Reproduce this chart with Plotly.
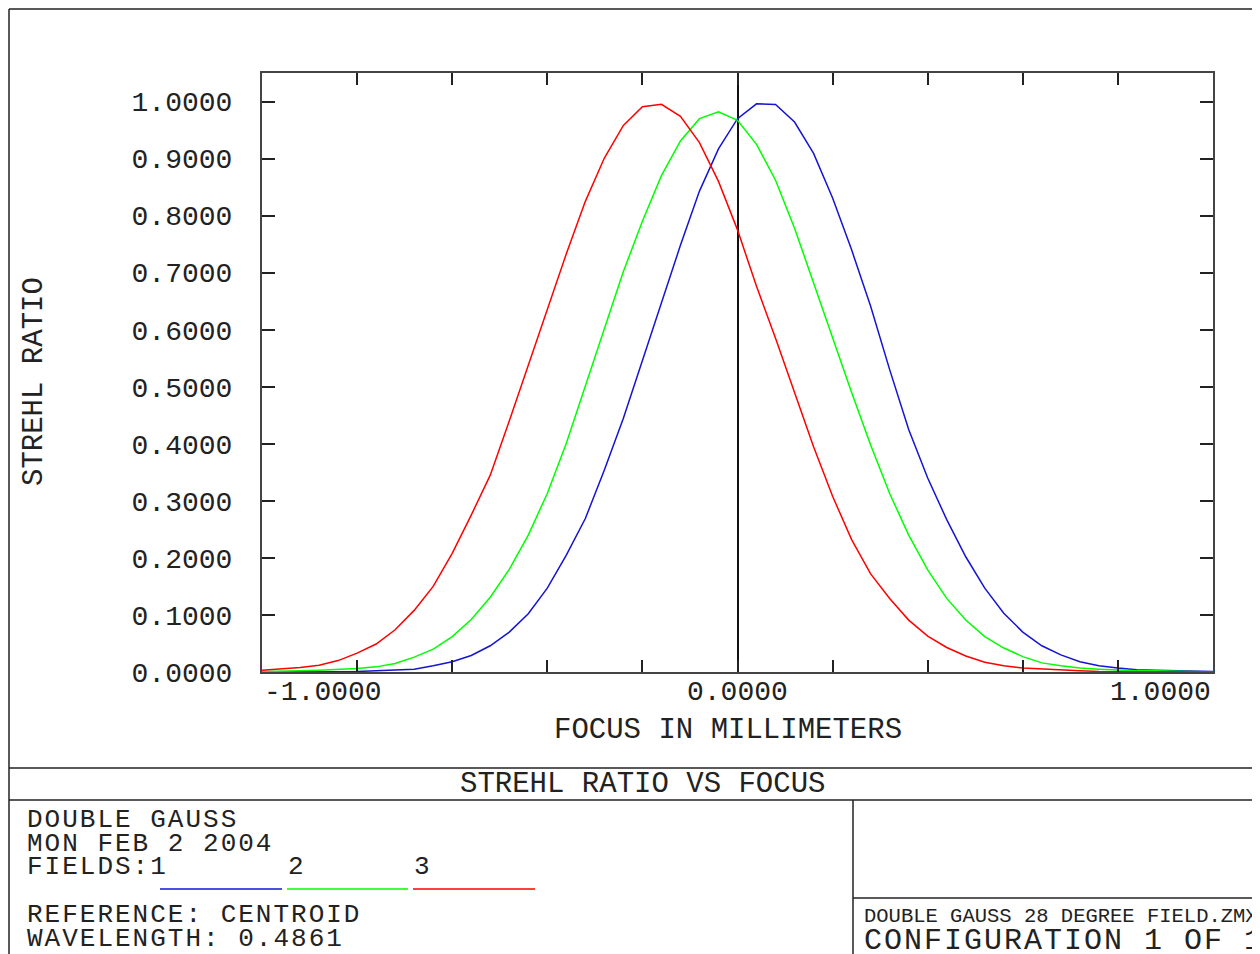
import plotly.graph_objects as go

# focus positions (mm) and Strehl ratio per field
focus = [-1.00, -0.96, -0.92, -0.88, -0.84, -0.80, -0.76, -0.72, -0.68, -0.64,
         -0.60, -0.56, -0.52, -0.48, -0.44, -0.40, -0.36, -0.32, -0.28, -0.24,
         -0.20, -0.16, -0.12, -0.08, -0.04, 0.00, 0.04, 0.08, 0.12, 0.16,
         0.20, 0.24, 0.28, 0.32, 0.36, 0.40, 0.44, 0.48, 0.52, 0.56,
         0.60, 0.64, 0.68, 0.72, 0.76, 0.80, 0.84, 0.88, 0.92, 0.96, 1.00]

field1 = [0.000, 0.000, 0.000, 0.001, 0.001, 0.001, 0.002, 0.003, 0.005, 0.011,
          0.018, 0.029, 0.046, 0.070, 0.102, 0.147, 0.205, 0.269, 0.354, 0.445,
          0.547, 0.647, 0.748, 0.843, 0.917, 0.970, 0.996, 0.995, 0.964, 0.909,
          0.831, 0.740, 0.641, 0.530, 0.425, 0.340, 0.267, 0.202, 0.147, 0.103,
          0.070, 0.046, 0.030, 0.018, 0.011, 0.007, 0.004, 0.003, 0.002, 0.001, 0.001]

field2 = [0.001, 0.001, 0.002, 0.003, 0.004, 0.006, 0.009, 0.015, 0.026, 0.040,
          0.062, 0.092, 0.131, 0.180, 0.240, 0.313, 0.401, 0.500, 0.603, 0.702,
          0.790, 0.870, 0.931, 0.970, 0.982, 0.967, 0.925, 0.862, 0.778, 0.682,
          0.585, 0.490, 0.398, 0.313, 0.240, 0.179, 0.129, 0.091, 0.062, 0.042,
          0.027, 0.016, 0.011, 0.007, 0.005, 0.003, 0.002, 0.002, 0.001, 0.001, 0.000]

field3 = [0.003, 0.005, 0.008, 0.012, 0.020, 0.033, 0.049, 0.074, 0.108, 0.150,
          0.208, 0.275, 0.345, 0.440, 0.537, 0.635, 0.733, 0.825, 0.901, 0.958,
          0.991, 0.995, 0.974, 0.928, 0.860, 0.775, 0.676, 0.585, 0.489, 0.395,
          0.308, 0.232, 0.172, 0.129, 0.091, 0.063, 0.043, 0.028, 0.017, 0.011,
          0.007, 0.005, 0.003, 0.002, 0.001, 0.001, 0.001, 0.000, 0.000, 0.000, 0.000]

y_ticks = [0.0, 0.1, 0.2, 0.3, 0.4, 0.5, 0.6, 0.7, 0.8, 0.9, 1.0]
y_labels = ["0.0000", "0.1000", "0.2000", "0.3000", "0.4000", "0.5000",
            "0.6000", "0.7000", "0.8000", "0.9000", "1.0000"]
x_label_vals = [-1.0, 0.0, 1.0]
x_labels = ["-1.0000", "0.0000", "1.0000"]

series = [("1", field1, "#1414d2"), ("2", field2, "#00ff00"), ("3", field3, "#ff0000")]

W, H = 1260, 954
OFF = 8  # page body margin: the figure sits 8px in from the window corner
L, R, T, B = 262, 1213, 73, 672  # plot box in window pixels
FONT = "Liberation Mono"
INK = "#222222"


def px(x):
    return (x - L) / (R - L)


def py(y):
    return (B - y) / (B - T)


def spaced(t, sp):
    return f'<span style="letter-spacing:{sp}px">{t}</span>'


fig = go.Figure()
for name, vals, color in series:
    fig.add_trace(go.Scatter(x=focus, y=vals, mode="lines", name=name,
                             line=dict(color=color, width=1.5)))

fig.update_layout(
    width=W, height=H,
    margin=dict(l=L - OFF, r=W - (R - OFF), t=T - OFF, b=H - (B - OFF)),
    paper_bgcolor="white", plot_bgcolor="white",
    showlegend=False,
    font=dict(family=FONT, size=28, color=INK),
)

fig.update_xaxes(range=[-1, 1], dtick=0.2, tick0=-1, ticks="inside", ticklen=12,
                 tickwidth=1.5, tickcolor=INK, showticklabels=False,
                 showgrid=False, showline=True, linecolor="#444", linewidth=2,
                 mirror="ticks", zeroline=True, zerolinecolor="#111", zerolinewidth=1.5)
fig.update_yaxes(range=[0, 1.05], tickvals=y_ticks, ticktext=y_labels,
                 ticks="inside", ticklen=13, tickwidth=1.5, tickcolor=INK,
                 ticklabelstandoff=22, tickfont=dict(family=FONT, size=28, color=INK),
                 showgrid=False, showline=True, linecolor="#444", linewidth=2,
                 mirror="ticks", zeroline=False)

ann = []


def text(x, y, t, size, xanchor="center", angle=0):
    ann.append(dict(x=px(x), y=py(y), xref="paper", yref="paper", text=t,
                    showarrow=False, xanchor=xanchor, yanchor="middle",
                    textangle=angle, font=dict(size=size)))


# x tick labels: first left-aligned, middle centered, last right-aligned
anchors = ["left", "center", "right"]
for v, t, a in zip(x_label_vals, x_labels, anchors):
    ann.append(dict(x=v, xref="x", y=py(692), yref="paper", text=t, showarrow=False,
                    xanchor=a, yanchor="middle", font=dict(size=28)))

text(728, 730, "FOCUS IN MILLIMETERS", 29)
text(35, 382, "STREHL RATIO", 29, angle=-90)
text(642, 784, "STREHL RATIO VS FOCUS", 29)

left_lines = [("DOUBLE GAUSS", 820), ("MON FEB 2 2004", 844), ("FIELDS:1", 867),
              ("REFERENCE: CENTROID", 915), ("WAVELENGTH: 0.4861", 939)]
for t, yy in left_lines:
    text(25, yy, spaced(t, 2), 26, xanchor="left")

# field labels and coloured legend strokes
seg_x = [(160, 282), (287, 408), (413, 535)]
for (name, _, color), (x0, x1) in zip(series, seg_x):
    if name != "1":
        text(x0 - 1, 867, name, 26, xanchor="left")

text(862, 916, "DOUBLE GAUSS 28 DEGREE FIELD.ZMX", 20.5, xanchor="left")
text(862, 941, spaced("CONFIGURATION 1 OF 1", 2), 30, xanchor="left")

fig.update_layout(annotations=ann)

shapes = []


def line(x0, y0, x1, y1, color=INK, width=1.5):
    shapes.append(dict(type="line", xref="paper", yref="paper",
                       x0=px(x0), y0=py(y0), x1=px(x1), y1=py(y1),
                       line=dict(color=color, width=width)))


# outer frame and title block
line(9, 9, 1270, 9)
line(9, 9, 9, 960)
line(9, 768, 1270, 768)
line(9, 800, 1270, 800)
line(853, 800, 853, 960)
line(853, 898, 1270, 898)
for (name, _, color), (x0, x1) in zip(series, seg_x):
    line(x0, 889, x1, 889, color=color, width=1.5)

fig.update_layout(shapes=shapes)

fig.write_html("out.html")
